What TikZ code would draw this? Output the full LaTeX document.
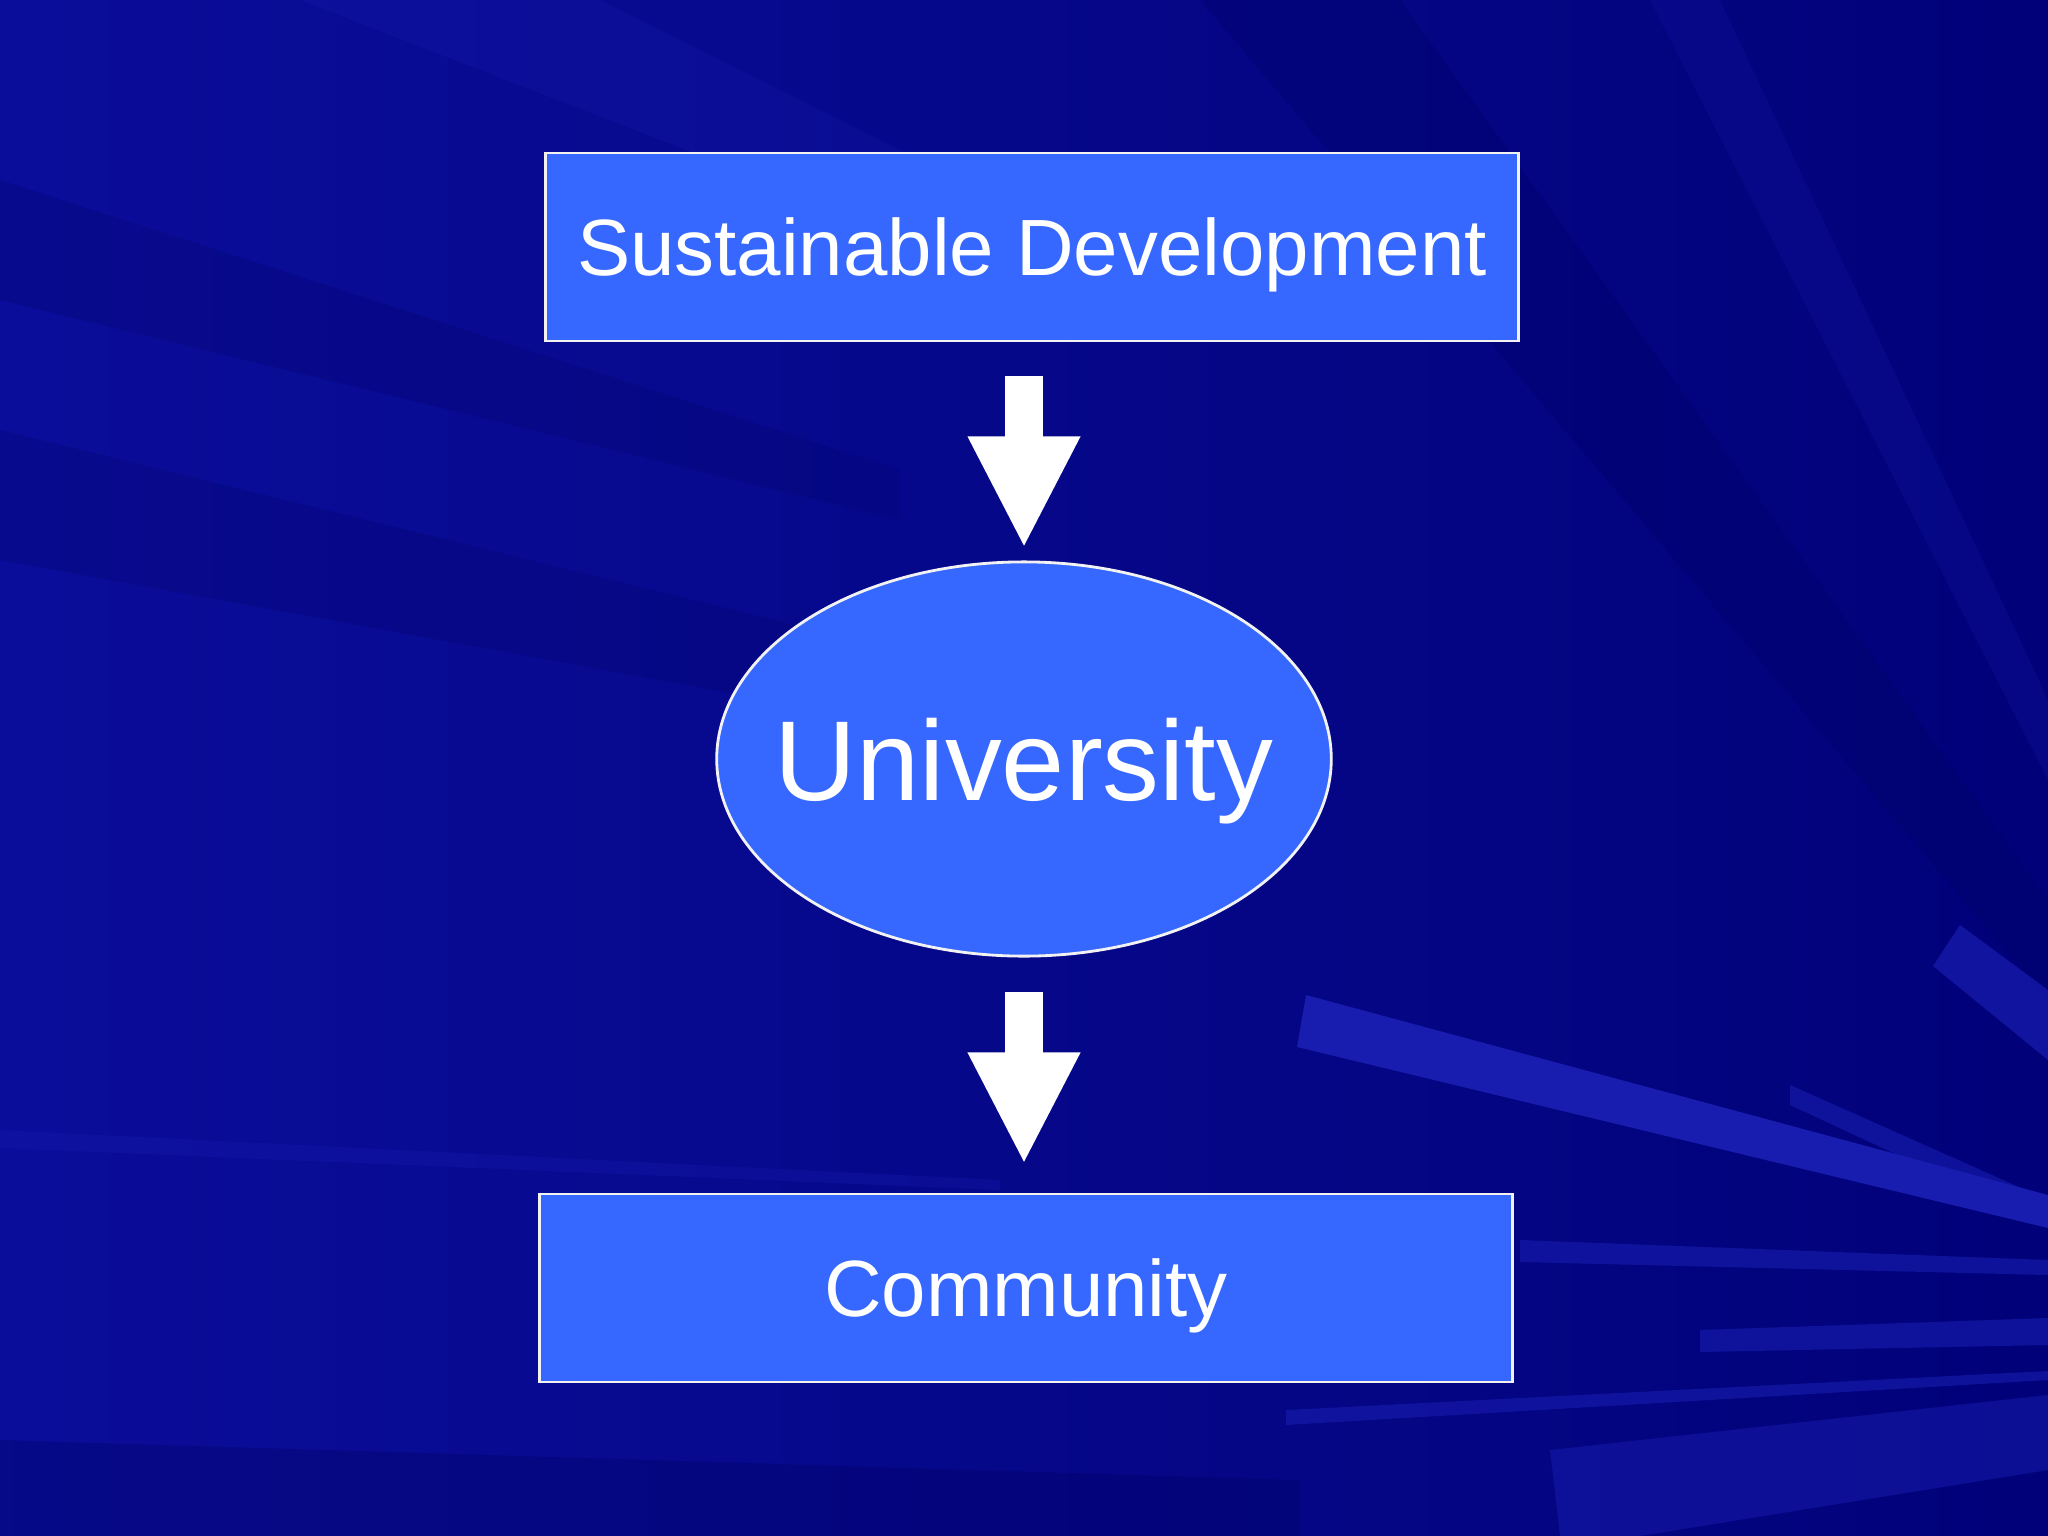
\documentclass[tikz,border=0pt]{standalone}
\usepackage{fontspec}
\setmainfont{Liberation Sans}
\usetikzlibrary{shapes.geometric, arrows.meta, positioning, calc}

\definecolor{bgblue}{RGB}{2,4,140}
\definecolor{bgdark}{RGB}{0,0,95}
\definecolor{bglight}{RGB}{24,28,175}
\definecolor{boxblue}{RGB}{54,104,255}

\begin{document}
\begin{tikzpicture}[
            x=0.01cm, y=-0.01cm,
            box/.style={rectangle, draw=white!90!gray, line width=0.8pt, fill=boxblue, text=white, text depth=-3pt, minimum width=9.72cm, minimum height=1.88cm, font=\fontsize{22.7}{27}\selectfont},
            oval/.style={ellipse, draw=white!90!gray, line width=0.8pt, fill=boxblue, text=white, text depth=-3.7pt, inner xsep=-0.32cm, inner ysep=0pt, minimum width=6.14cm, minimum height=3.94cm, font=\fontsize{32.3}{38}\selectfont},
            blockarrow/.style={white, line width=0.38cm, -{Triangle[width=1.04cm, length=1.12cm]}}
        ]

% background with rays
            \useasboundingbox (0,0) rectangle (2048,1536);
            \fill[left color=bglight, right color=bgdark] (0,0) rectangle (2048,1536);
            \fill[bgblue, opacity=0.6] (0,0) rectangle (2048,1536);
            \fill[bgdark, opacity=0.2] (0,180) -- (900,470) -- (900,520) -- (0,300) -- cycle;
            \fill[bgdark, opacity=0.2] (0,430) -- (1100,700) -- (1100,760) -- (0,560) -- cycle;
            \fill[bgdark, opacity=0.25] (1200,0) -- (1400,0) -- (2048,900) -- (2048,1000) -- cycle;
            \fill[bglight, opacity=0.25] (300,0) -- (600,0) -- (1200,300) -- (1150,330) -- cycle;
            \fill[bglight, opacity=0.2] (1650,0) -- (1720,0) -- (2048,700) -- (2048,780) -- cycle;
            \fill[bglight] (1306,995) -- (1297,1047) -- (2048,1228) -- (2048,1195) -- cycle;
            \fill[bglight, opacity=0.7] (1933,966) -- (1960,925) -- (2048,990) -- (2048,1060) -- cycle;
            \fill[bglight, opacity=0.6] (1790,1085) -- (2048,1200) -- (2048,1225) -- (1790,1105) -- cycle;
            \fill[bglight, opacity=0.3] (0,1130) -- (1000,1180) -- (1000,1190) -- (0,1148) -- cycle;
            \fill[bglight, opacity=0.6] (1520,1240) -- (2048,1260) -- (2048,1275) -- (1520,1262) -- cycle;
            \fill[bglight, opacity=0.6] (1700,1330) -- (2048,1318) -- (2048,1345) -- (1700,1352) -- cycle;
            \fill[bglight, opacity=0.6] (1286,1410) -- (2048,1371) -- (2048,1380) -- (1286,1425) -- cycle;
            \fill[bglight, opacity=0.5] (1550,1450) -- (2048,1395) -- (2048,1470) -- (1640,1536) -- (1560,1536) -- cycle;
            \fill[bgdark, opacity=0.3] (0,1440) -- (1300,1480) -- (1300,1536) -- (0,1536) -- cycle;

% nodes
            \node[box] (sd) at (1032,247) {Sustainable Development};
            \node[oval] (uni) at (1024,759) {University};
            \node[box] (com) at (1026,1288) {Community};

% block arrows
            \coordinate (a1) at (sd.south -| uni.north);
            \coordinate (a2) at (com.north -| uni.south);
            \draw[blockarrow] ($(a1)+(0,34)$) -- ($(uni.north)+(0,-12)$);
            \draw[blockarrow] ($(uni.south)+(0,34)$) -- ($(a2)+(0,-28)$);

        \end{tikzpicture}
\end{document}
